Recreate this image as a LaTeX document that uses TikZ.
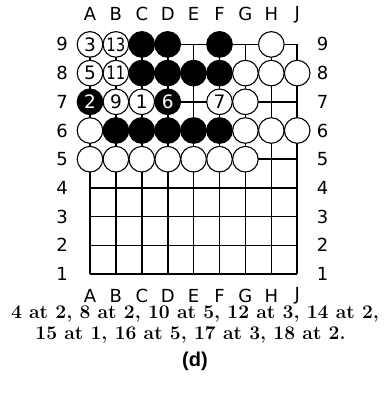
\documentclass[tikz,border=0pt]{standalone}
\usepackage{fontspec}
\usetikzlibrary{calc}
\newfontfamily\boardfont{DejaVu Sans}
\newfontfamily\capfont{Liberation Sans}
\begin{document}
\begin{tikzpicture}[x=1pt,y=-1pt,
  gridline/.style={line width=1.6pt},
  wst/.style={circle,draw=black,fill=white,line width=1.1pt,minimum size=25.6pt,inner sep=0pt,font=\boardfont\fontsize{18.5}{18.5}\selectfont},
  bst/.style={circle,draw=black,fill=black,line width=1.1pt,minimum size=25.6pt,inner sep=0pt,text=white,font=\boardfont\fontsize{18.5}{18.5}\selectfont},
  lbl/.style={font=\boardfont\fontsize{18}{18}\selectfont,inner sep=0pt},
  captxt/.style={font=\fontsize{19.3}{22}\selectfont\bfseries,inner sep=0pt,anchor=base}]
\useasboundingbox (0,0) rectangle (384,397);
\foreach \i in {1,...,9}{
  \foreach \r in {1,...,9}{
    \coordinate (p-\i-\r) at ({90+25.9*(\i-1)},{274-28.7*(\r-1)});
  }
}
% grid
\foreach \i in {1,...,9}{
  \draw[gridline] (p-\i-1) -- (p-\i-9);
  \draw[gridline] (p-1-\i) -- (p-9-\i);
}
% labels
\foreach \l [count=\i] in {A,B,C,D,E,F,G,H,J}{
  \node[lbl] (top-\i) at ($(p-\i-9)+(0,-30)$) {\l};
  \node[lbl] (bot-\i) at ($(p-\i-1)+(0,21.5)$) {\l};
}
\foreach \r in {1,...,9}{
  \node[lbl] (left-\r) at ($(p-1-\r)+(-28,0)$) {\r};
  \node[lbl] (right-\r) at ($(p-9-\r)+(25.5,0)$) {\r};
}
% white stones
\node[wst] (A9) at (p-1-9) {3};
\node[wst] (B9) at (p-2-9) {\scalebox{0.8}[1]{13}};
\node[wst] (H9) at (p-8-9) {};
\node[wst] (A8) at (p-1-8) {5};
\node[wst] (B8) at (p-2-8) {\scalebox{0.8}[1]{11}};
\node[wst] (G8) at (p-7-8) {};
\node[wst] (H8) at (p-8-8) {};
\node[wst] (J8) at (p-9-8) {};
\node[wst] (B7) at (p-2-7) {9};
\node[wst] (C7) at (p-3-7) {1};
\node[wst] (F7) at (p-6-7) {7};
\node[wst] (G7) at (p-7-7) {};
\node[wst] (A6) at (p-1-6) {};
\node[wst] (G6) at (p-7-6) {};
\node[wst] (H6) at (p-8-6) {};
\node[wst] (J6) at (p-9-6) {};
\foreach \i/\n in {1/A,2/B,3/C,4/D,5/E,6/F,7/G}{
  \node[wst] (\n5) at (p-\i-5) {};
}
% black stones
\node[bst] (C9) at (p-3-9) {};
\node[bst] (D9) at (p-4-9) {};
\node[bst] (F9) at (p-6-9) {};
\foreach \i/\n in {3/C,4/D,5/E,6/F}{
  \node[bst] (\n8) at (p-\i-8) {};
}
\node[bst] (A7) at (p-1-7) {2};
\node[bst] (D7) at (p-4-7) {6};
\foreach \i/\n in {2/B,3/C,4/D,5/E,6/F}{
  \node[bst] (\n6) at (p-\i-6) {};
}
% caption
\node[captxt] (cap1) at (195,318) {4 at 2, 8 at 2, 10 at 5, 12 at 3, 14 at 2,};
\node[captxt] (cap2) at (190.5,339) {15 at 1, 16 at 5, 17 at 3, 18 at 2.};
\node[captxt,font=\capfont\bfseries\fontsize{20}{20}\selectfont] (cap3) at (195,366) {(d)};
\end{tikzpicture}
\end{document}
